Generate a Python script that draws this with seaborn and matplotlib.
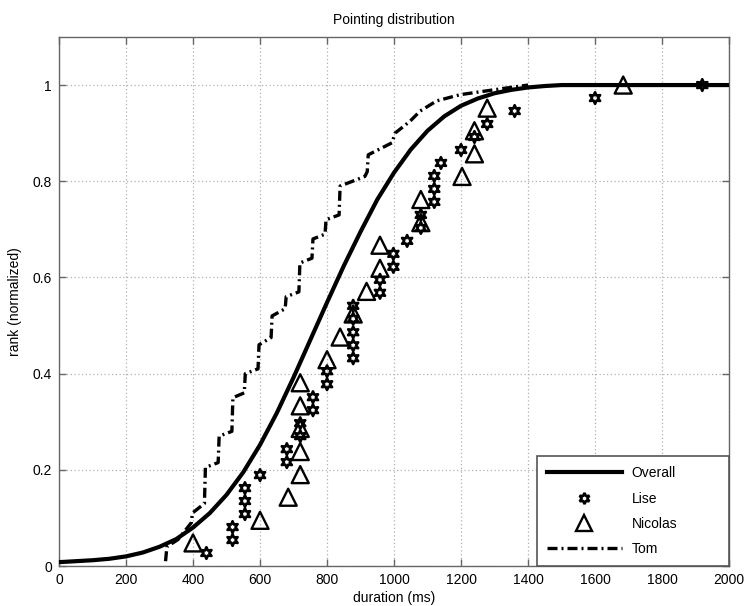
#!/usr/bin/env python3
"""Pointing distribution: cumulative rank of pointing durations per subject."""
import matplotlib
matplotlib.use("Agg")
import matplotlib.pyplot as plt
import pandas as pd
import seaborn as sns
from matplotlib.lines import Line2D

# Overall fitted distribution
overall_ms = [0, 50, 100, 150, 200, 250, 300, 350, 400, 450, 500, 550, 600, 650,
              700, 750, 800, 850, 900, 950, 1000, 1050, 1100, 1150, 1200, 1250,
              1300, 1350, 1400, 1450, 1500, 2000]
overall_rank = [0.008, 0.010, 0.012, 0.015, 0.020, 0.028, 0.040, 0.056, 0.080,
                0.110, 0.148, 0.195, 0.252, 0.318, 0.392, 0.470, 0.548, 0.624,
                0.695, 0.762, 0.818, 0.866, 0.905, 0.935, 0.957, 0.972, 0.983,
                0.990, 0.995, 0.998, 1.000, 1.000]

# Lise
lise_ms = [440, 518, 518, 555, 555, 555, 600, 680, 680, 720, 720, 758, 758, 800,
           800, 878, 878, 878, 878, 878, 958, 958, 998, 998, 1039, 1080, 1080,
           1120, 1120, 1120, 1140, 1200, 1240, 1278, 1360, 1600, 1920]
lise_rank = [0.027, 0.054, 0.081, 0.108, 0.135, 0.162, 0.189, 0.216, 0.243,
             0.270, 0.297, 0.324, 0.351, 0.378, 0.405, 0.432, 0.459, 0.486,
             0.514, 0.541, 0.568, 0.595, 0.622, 0.649, 0.676, 0.703, 0.730,
             0.757, 0.784, 0.811, 0.838, 0.865, 0.892, 0.919, 0.946, 0.973, 1.000]

# Nicolas
nicolas_ms = [400, 600, 684, 720, 720, 720, 720, 720, 800, 839, 878, 918, 958,
              958, 1080, 1080, 1203, 1240, 1240, 1278, 1684]
nicolas_rank = [0.048, 0.095, 0.143, 0.190, 0.238, 0.286, 0.333, 0.381, 0.429,
                0.476, 0.524, 0.571, 0.619, 0.667, 0.714, 0.762, 0.810, 0.857,
                0.905, 0.952, 1.000]

# Tom (empirical steps)
tom_ms = [318, 322, 355, 395, 398, 434, 437, 475, 478, 516, 519, 553, 556, 594,
          597, 633, 636, 675, 678, 716, 719, 755, 758, 794, 797, 836, 839, 913,
          920, 923, 994, 1003, 1048, 1078, 1127, 1197, 1277, 1337, 1400]
tom_rank = [0.010, 0.040, 0.055, 0.090, 0.110, 0.130, 0.205, 0.215, 0.270,
            0.280, 0.350, 0.360, 0.400, 0.410, 0.460, 0.475, 0.520, 0.535,
            0.560, 0.570, 0.630, 0.640, 0.680, 0.690, 0.720, 0.730, 0.790,
            0.810, 0.820, 0.855, 0.880, 0.900, 0.925, 0.946, 0.967, 0.980,
            0.988, 0.994, 1.000]

x_ticks = [0, 200, 400, 600, 800, 1000, 1200, 1400, 1600, 1800, 2000]
y_ticks = [0, 0.2, 0.4, 0.6, 0.8, 1.0]
y_tick_labels = ["0", "0.2", "0.4", "0.6", "0.8", "1"]

plt.rcParams.update({
    "font.family": ["Liberation Sans", "DejaVu Sans"],
    "font.size": 10,
    "axes.edgecolor": "#666666",
    "axes.linewidth": 1.0,
    "xtick.direction": "in",
    "ytick.direction": "in",
    "xtick.color": "#666666",
    "ytick.color": "#666666",
    "xtick.labelcolor": "black",
    "ytick.labelcolor": "black",
})

overall = pd.DataFrame({"ms": overall_ms, "rank": overall_rank})
lise = pd.DataFrame({"ms": lise_ms, "rank": lise_rank})
nicolas = pd.DataFrame({"ms": nicolas_ms, "rank": nicolas_rank})
tom = pd.DataFrame({"ms": tom_ms, "rank": tom_rank})

fig = plt.figure(figsize=(7.47, 6.06), dpi=100)
ax = fig.add_axes([0.079, 0.066, 0.897, 0.873])

hexagram = (6, 1, 0)
dashdot = (0, (3, 1.2, 0.6, 1.2))

sns.scatterplot(data=lise, x="ms", y="rank", marker=hexagram, s=70,
                facecolor="none", edgecolor="black", linewidth=1.9, ax=ax, zorder=3)
sns.scatterplot(data=nicolas, x="ms", y="rank", marker="^", s=150,
                facecolor="none", edgecolor="black", linewidth=1.7, ax=ax, zorder=3)
sns.lineplot(data=overall, x="ms", y="rank", color="black", linewidth=3.0,
             estimator=None, sort=False, ax=ax, zorder=4)
sns.lineplot(data=tom, x="ms", y="rank", color="black", linewidth=2.4,
             linestyle=dashdot, estimator=None, sort=False, ax=ax, zorder=4)

ax.set_xlim(0, 2000)
ax.set_ylim(0, 1.1)
ax.set_xticks(x_ticks)
ax.set_yticks(y_ticks)
ax.set_yticklabels(y_tick_labels)
ax.tick_params(top=True, right=True, length=5, width=1.0, pad=5)
ax.grid(True, color="#b0b0b0", linestyle=(0, (1, 2)), linewidth=0.9)
ax.set_axisbelow(True)

ax.set_title("Pointing distribution", fontsize=10, pad=9)
ax.set_xlabel("duration (ms)", fontsize=10, labelpad=3)
ax.set_ylabel("rank (normalized)", fontsize=10, labelpad=8)

handles = [
    Line2D([], [], color="black", linewidth=3.0),
    Line2D([], [], linestyle="none", marker=hexagram, markersize=8,
           markerfacecolor="none", markeredgecolor="black", markeredgewidth=1.9),
    Line2D([], [], linestyle="none", marker="^", markersize=12,
           markerfacecolor="none", markeredgecolor="black", markeredgewidth=1.7),
    Line2D([], [], color="black", linewidth=2.4, linestyle=dashdot),
]
leg = ax.legend(handles, ["Overall", "Lise", "Nicolas", "Tom"], loc="lower left",
                bbox_to_anchor=(0.7134, 0.0, 0.2866, 0.2), mode="expand",
                borderaxespad=0, frameon=True, fancybox=False, handlelength=5.4,
                handletextpad=0.7, labelspacing=0.82, borderpad=0.7, fontsize=10)
leg.get_frame().set_edgecolor("#555555")
leg.get_frame().set_linewidth(1.2)
leg.get_frame().set_alpha(1.0)

fig.savefig("out.png", dpi=100)
